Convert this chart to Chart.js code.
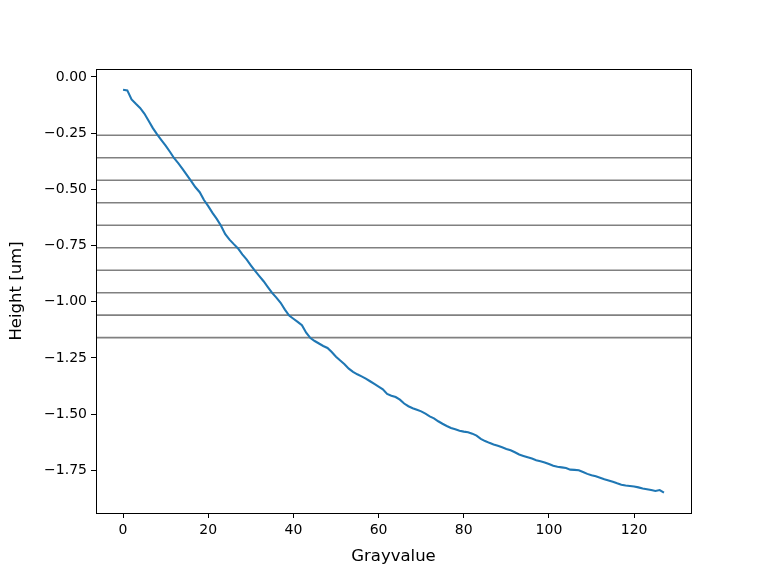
<!DOCTYPE html>
<html>
<head>
<meta charset="utf-8">
<script src="https://cdn.jsdelivr.net/npm/chart.js@4"></script>
<style>
  html, body { margin: 0; padding: 0; background: #fff; }
  #wrap { width: 768px; height: 576px; }
</style>
</head>
<body>
<div id="wrap"><canvas id="c" width="768" height="576"></canvas></div>
<script>
// ===== Dados =====
const grayvalue = Array.from({ length: 128 }, (_, i) => i);

const height = [
  -0.057, -0.060, -0.100, -0.120, -0.138, -0.163, -0.195, -0.228, -0.256, -0.281,
  -0.306, -0.333, -0.362, -0.385, -0.410, -0.437, -0.464, -0.491, -0.513, -0.548,
  -0.575, -0.605, -0.632, -0.662, -0.700, -0.724, -0.744, -0.763, -0.790, -0.812,
  -0.838, -0.863, -0.886, -0.909, -0.935, -0.961, -0.982, -1.005, -1.035, -1.062,
  -1.076, -1.090, -1.105, -1.138, -1.162, -1.175, -1.186, -1.197, -1.206, -1.224,
  -1.245, -1.262, -1.278, -1.298, -1.312, -1.323, -1.332, -1.342, -1.354, -1.366,
  -1.378, -1.390, -1.410, -1.418, -1.424, -1.436, -1.453, -1.465, -1.474, -1.481,
  -1.488, -1.498, -1.510, -1.519, -1.532, -1.543, -1.553, -1.562, -1.568, -1.574,
  -1.578, -1.581, -1.587, -1.596, -1.610, -1.620, -1.628, -1.635, -1.641, -1.648,
  -1.655, -1.661, -1.670, -1.680, -1.686, -1.692, -1.698, -1.705, -1.710, -1.715,
  -1.722, -1.730, -1.734, -1.737, -1.740, -1.747, -1.748, -1.750, -1.758, -1.766,
  -1.772, -1.777, -1.783, -1.790, -1.795, -1.801, -1.808, -1.814, -1.818, -1.820,
  -1.822, -1.826, -1.831, -1.834, -1.838, -1.842, -1.838, -1.849
];

// linhas horizontais (níveis)
const levels = [-0.26, -0.36, -0.46, -0.56, -0.66, -0.76, -0.86, -0.96, -1.06, -1.16];

const xTicks = [0, 20, 40, 60, 80, 100, 120];
const yTicks = [0, -0.25, -0.5, -0.75, -1.0, -1.25, -1.5, -1.75];

const FONT = 'DejaVu Sans';
const fmtMinus = v => (v < 0 ? '\u2212' : '') + Math.abs(v).toFixed(2);

// ===== Plugins =====
const levelLines = {
  id: 'levelLines',
  beforeDatasetsDraw(chart) {
    const { ctx, chartArea: a, scales: { y } } = chart;
    ctx.save();
    ctx.strokeStyle = '#808080';
    ctx.lineWidth = 1.6;
    levels.forEach(v => {
      const py = y.getPixelForValue(v);
      ctx.beginPath();
      ctx.moveTo(a.left, py);
      ctx.lineTo(a.right, py);
      ctx.stroke();
    });
    ctx.restore();
  }
};

const frame = {
  id: 'frame',
  afterDraw(chart) {
    const { ctx, chartArea: a } = chart;
    ctx.save();
    ctx.strokeStyle = '#000';
    ctx.lineWidth = 1;
    ctx.strokeRect(Math.round(a.left) + 0.5, Math.round(a.top) + 0.5,
      Math.round(a.right - a.left), Math.round(a.bottom - a.top));
    ctx.restore();
  }
};

new Chart(document.getElementById('c'), {
  type: 'line',
  data: {
    datasets: [{
      data: grayvalue.map((g, i) => ({ x: g, y: height[i] })),
      borderColor: '#1f77b4',
      borderWidth: 2.1,
      pointRadius: 0,
      tension: 0,
      fill: false
    }]
  },
  options: {
    responsive: false,
    animation: false,
    events: [],
    layout: { padding: { top: 69, right: 77, left: 0, bottom: 0 } },
    plugins: { legend: { display: false }, tooltip: { enabled: false } },
    scales: {
      x: {
        type: 'linear',
        min: -6.35,
        max: 133.35,
        afterBuildTicks: s => { s.ticks = xTicks.map(v => ({ value: v })); },
        afterFit: s => { s.height = 63; },
        grid: { drawOnChartArea: false, color: '#000', tickLength: 5, tickWidth: 1 },
        border: { display: false },
        ticks: {
          color: '#000', padding: 4,
          font: { family: FONT, size: 14 },
          callback: v => String(v)
        },
        title: {
          display: true, text: 'Grayvalue', color: '#000',
          font: { family: FONT, size: 16.5 },
          padding: { top: 0, bottom: 9 }
        }
      },
      y: {
        type: 'linear',
        min: -1.94,
        max: 0.035,
        afterBuildTicks: s => { s.ticks = yTicks.map(v => ({ value: v })); },
        afterFit: s => { s.width = 96; },
        grid: { drawOnChartArea: false, color: '#000', tickLength: 5, tickWidth: 1 },
        border: { display: false },
        ticks: {
          color: '#000', padding: 4,
          font: { family: FONT, size: 14 },
          callback: v => fmtMinus(v)
        },
        title: {
          display: true, text: 'Height [um]', color: '#000',
          font: { family: FONT, size: 16.5 },
          padding: { top: 7, bottom: 0 }
        }
      }
    }
  },
  plugins: [levelLines, frame]
});
</script>
</body>
</html>
